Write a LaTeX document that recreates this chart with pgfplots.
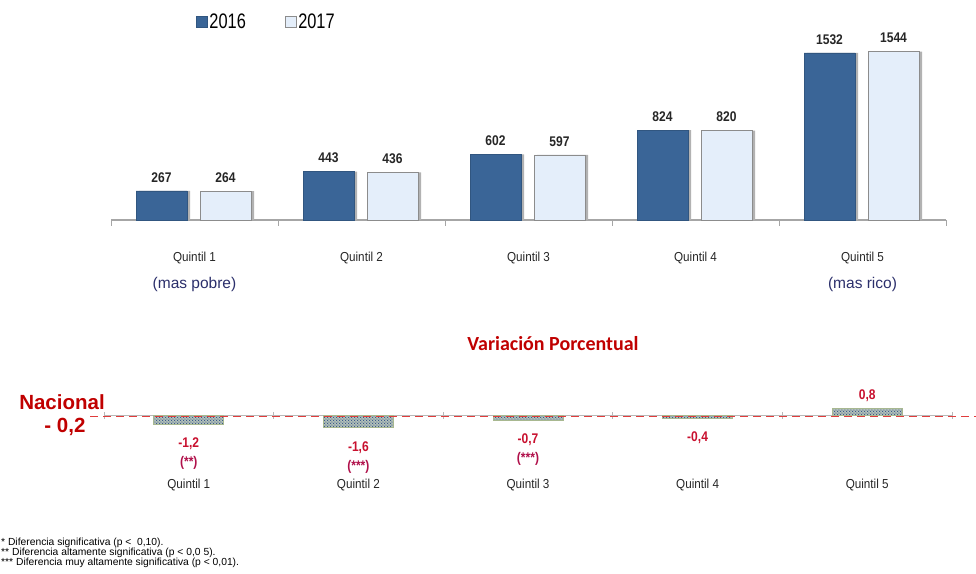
\documentclass[border=0pt]{standalone}
\usepackage{pgfplots}
\pgfplotsset{compat=1.18}
\usepackage{fontspec}
\setmainfont{Liberation Sans}
\newfontfamily\narrow[FakeStretch=0.9]{Liberation Sans}
\newfontfamily\legfont[FakeStretch=0.78]{Liberation Sans}
\newfontfamily\valfont[FakeStretch=0.86]{Liberation Sans}
\newfontfamily\calib{Carlito}
\usetikzlibrary{patterns}
\pgfdeclarepatternformonly{bluedots}{\pgfqpoint{0pt}{0pt}}{\pgfqpoint{3.2pt}{3.2pt}}{\pgfqpoint{3.2pt}{3.2pt}}{%
  \pgfpathcircle{\pgfqpoint{0.8pt}{0.8pt}}{0.75pt}%
  \pgfpathcircle{\pgfqpoint{2.4pt}{2.4pt}}{0.75pt}%
  \pgfusepath{fill}}
\definecolor{c16}{HTML}{3A6597}
\definecolor{c17}{HTML}{E4EEFA}
\definecolor{axgray}{HTML}{A6A6A6}
\definecolor{redv}{HTML}{C8102E}
\definecolor{redn}{HTML}{C00000}
\definecolor{redst}{HTML}{B0104A}
\definecolor{navy}{HTML}{2B2F6B}
\definecolor{patbg}{HTML}{B4C2B8}
\definecolor{patbd}{HTML}{A8B890}
\definecolor{patfg}{HTML}{2F5089}
\definecolor{dashc}{HTML}{E03C3C}
\pgfplotsset{sqlegend/.style={legend image code/.code={\draw[##1] (0pt,-5pt) rectangle (11pt,6pt);}}}
\begin{document}
\begin{tikzpicture}[x=1pt,y=1pt]
\useasboundingbox (0,0) rectangle (976,573);
% ---------------- top chart ----------------
\begin{axis}[
  at={(111pt,353pt)}, anchor=south west,
  width=835pt, height=180pt, scale only axis,
  xmin=-0.5, xmax=4.5, ymin=0, ymax=1650,
  axis x line=bottom, axis y line=none,
  x axis line style={-, draw=axgray, line width=1.2pt},
  xtick={0,1,2,3,4},
  xticklabels={
    {Quintil 1\\{\rmfamily\fontsize{15.5}{18}\selectfont\color{navy}(mas pobre)}},
    {Quintil 2},{Quintil 3},{Quintil 4},
    {Quintil 5\\{\rmfamily\fontsize{15.5}{18}\selectfont\color{navy}(mas rico)}}},
  major tick length=0pt,
  minor xtick={-0.5,0.5,1.5,2.5,3.5,4.5},
  minor tick length=6pt,
  tick align=outside,
  minor tick style={draw=axgray, line width=1pt},
  xticklabel style={align=center, anchor=north, yshift=-29pt,
     font=\narrow\fontsize{13}{27}\selectfont, text=black!85},
  clip=false,
  legend style={at={(0.098,1.1)}, anchor=west, draw=none, fill=none,
     legend columns=2, font=\legfont\fontsize{21}{24}\selectfont,
     /tikz/every even column/.append style={column sep=37pt}},
]
\addplot[ybar, bar width=51pt, bar shift=-30pt, fill=black!30, draw=none, forget plot]
  coordinates {(0,267) (1,443) (2,602) (3,824) (4,1532)};
\addplot[ybar, bar width=51pt, bar shift=34pt, fill=black!30, draw=none, forget plot]
  coordinates {(0,264) (1,436) (2,597) (3,820) (4,1544)};
\addplot[ybar, bar width=51pt, bar shift=-33pt, fill=c16, draw=c16!85!black, sqlegend,
  point meta=explicit symbolic, nodes near coords={\pgfplotspointmeta},
  every node near coord/.append style={font=\valfont\bfseries\fontsize{14}{16}\selectfont, text=black!85, yshift=5pt, xshift=-33pt}]
  coordinates {(0,267)[267] (1,443)[443] (2,602)[602] (3,824)[824] (4,1532)[1532]};
\addlegendentry{2016}
\addplot[ybar, bar width=51pt, bar shift=31pt, fill=c17, draw=black!45, sqlegend,
  point meta=explicit symbolic, nodes near coords={\pgfplotspointmeta},
  every node near coord/.append style={font=\valfont\bfseries\fontsize{14}{16}\selectfont, text=black!85, yshift=5pt, xshift=31pt}]
  coordinates {(0,264)[264] (1,436)[436] (2,597)[597] (3,820)[820] (4,1544)[1544]};
\addlegendentry{2017}
\end{axis}
% ---------------- bottom chart ----------------
\begin{axis}[
  at={(104pt,138pt)}, anchor=south west,
  width=848pt, height=32pt, scale only axis,
  xmin=-0.5, xmax=4.5, ymin=-2.5, ymax=1.5,
  axis x line=middle, axis y line=none,
  x axis line style={-, draw=axgray!80, line width=0.8pt},
  hide obscured x ticks=false,
  xtick={0,1,2,3,4},
  xticklabels={Quintil 1,Quintil 2,Quintil 3,Quintil 4,Quintil 5},
  major tick length=0pt,
  minor xtick={-0.5,0.5,1.5,2.5,3.5,4.5},
  minor tick length=7pt,
  tick align=center,
  minor tick style={draw=axgray!80, line width=0.8pt},
  xticklabel style={anchor=north, yshift=-61pt,
     font=\narrow\fontsize{13}{15}\selectfont, text=black!85},
  clip=false,
]
\addplot[ybar, bar width=70pt, bar shift=0pt, fill=patbg, draw=patbd, line width=1pt,
  postaction={pattern=bluedots, pattern color=patfg}]
  coordinates {(0,-1.2) (1,-1.6) (2,-0.7) (3,-0.4) (4,0.8)};
\addplot[draw=dashc, line width=1.5pt, dash pattern=on 8pt off 5pt, forget plot]
  coordinates {(-0.5825,-0.2) (4.65,-0.2)};
\addplot[draw=none, point meta=explicit symbolic, nodes near coords={\pgfplotspointmeta},
  every node near coord/.append style={anchor=north, align=center, yshift=-10pt,
    font=\valfont\bfseries\fontsize{14}{19}\selectfont, text=redv}]
  coordinates {(0,-1.2)[{-1,2\\{\color{redst}(**)}}] (1,-1.6)[{-1,6\\{\color{redst}(***)}}]
               (2,-0.7)[{-0,7\\{\color{redst}(***)}}] (3,-0.4)[{-0,4}]};
\addplot[draw=none, point meta=explicit symbolic, nodes near coords={\pgfplotspointmeta},
  every node near coord/.append style={anchor=south, yshift=3pt,
    font=\valfont\bfseries\fontsize{14}{16}\selectfont, text=redv}]
  coordinates {(4,0.8)[{0,8}]};
\end{axis}
% ---------------- texts ----------------
\node[font=\bfseries\fontsize{20.5}{24}\selectfont, text=redn] at (62,171) {Nacional};
\node[font=\bfseries\fontsize{20.5}{24}\selectfont, text=redn] at (65,146) {- 0,2};
\node[font=\calib\bfseries\fontsize{20}{24}\selectfont, text=redn] at (553,229) {Variación Porcentual};
\node[anchor=west, inner sep=0pt, font=\fontsize{10.3}{11}\selectfont] at (1,30) {* Diferencia significativa (p <\ \ 0,10).};
\node[anchor=west, inner sep=0pt, font=\fontsize{10.3}{11}\selectfont] at (1,20) {** Diferencia altamente significativa (p < 0,0 5).};
\node[anchor=west, inner sep=0pt, font=\fontsize{10.3}{11}\selectfont] at (1,10) {*** Diferencia muy altamente significativa (p < 0,01).};
\end{tikzpicture}
\end{document}
